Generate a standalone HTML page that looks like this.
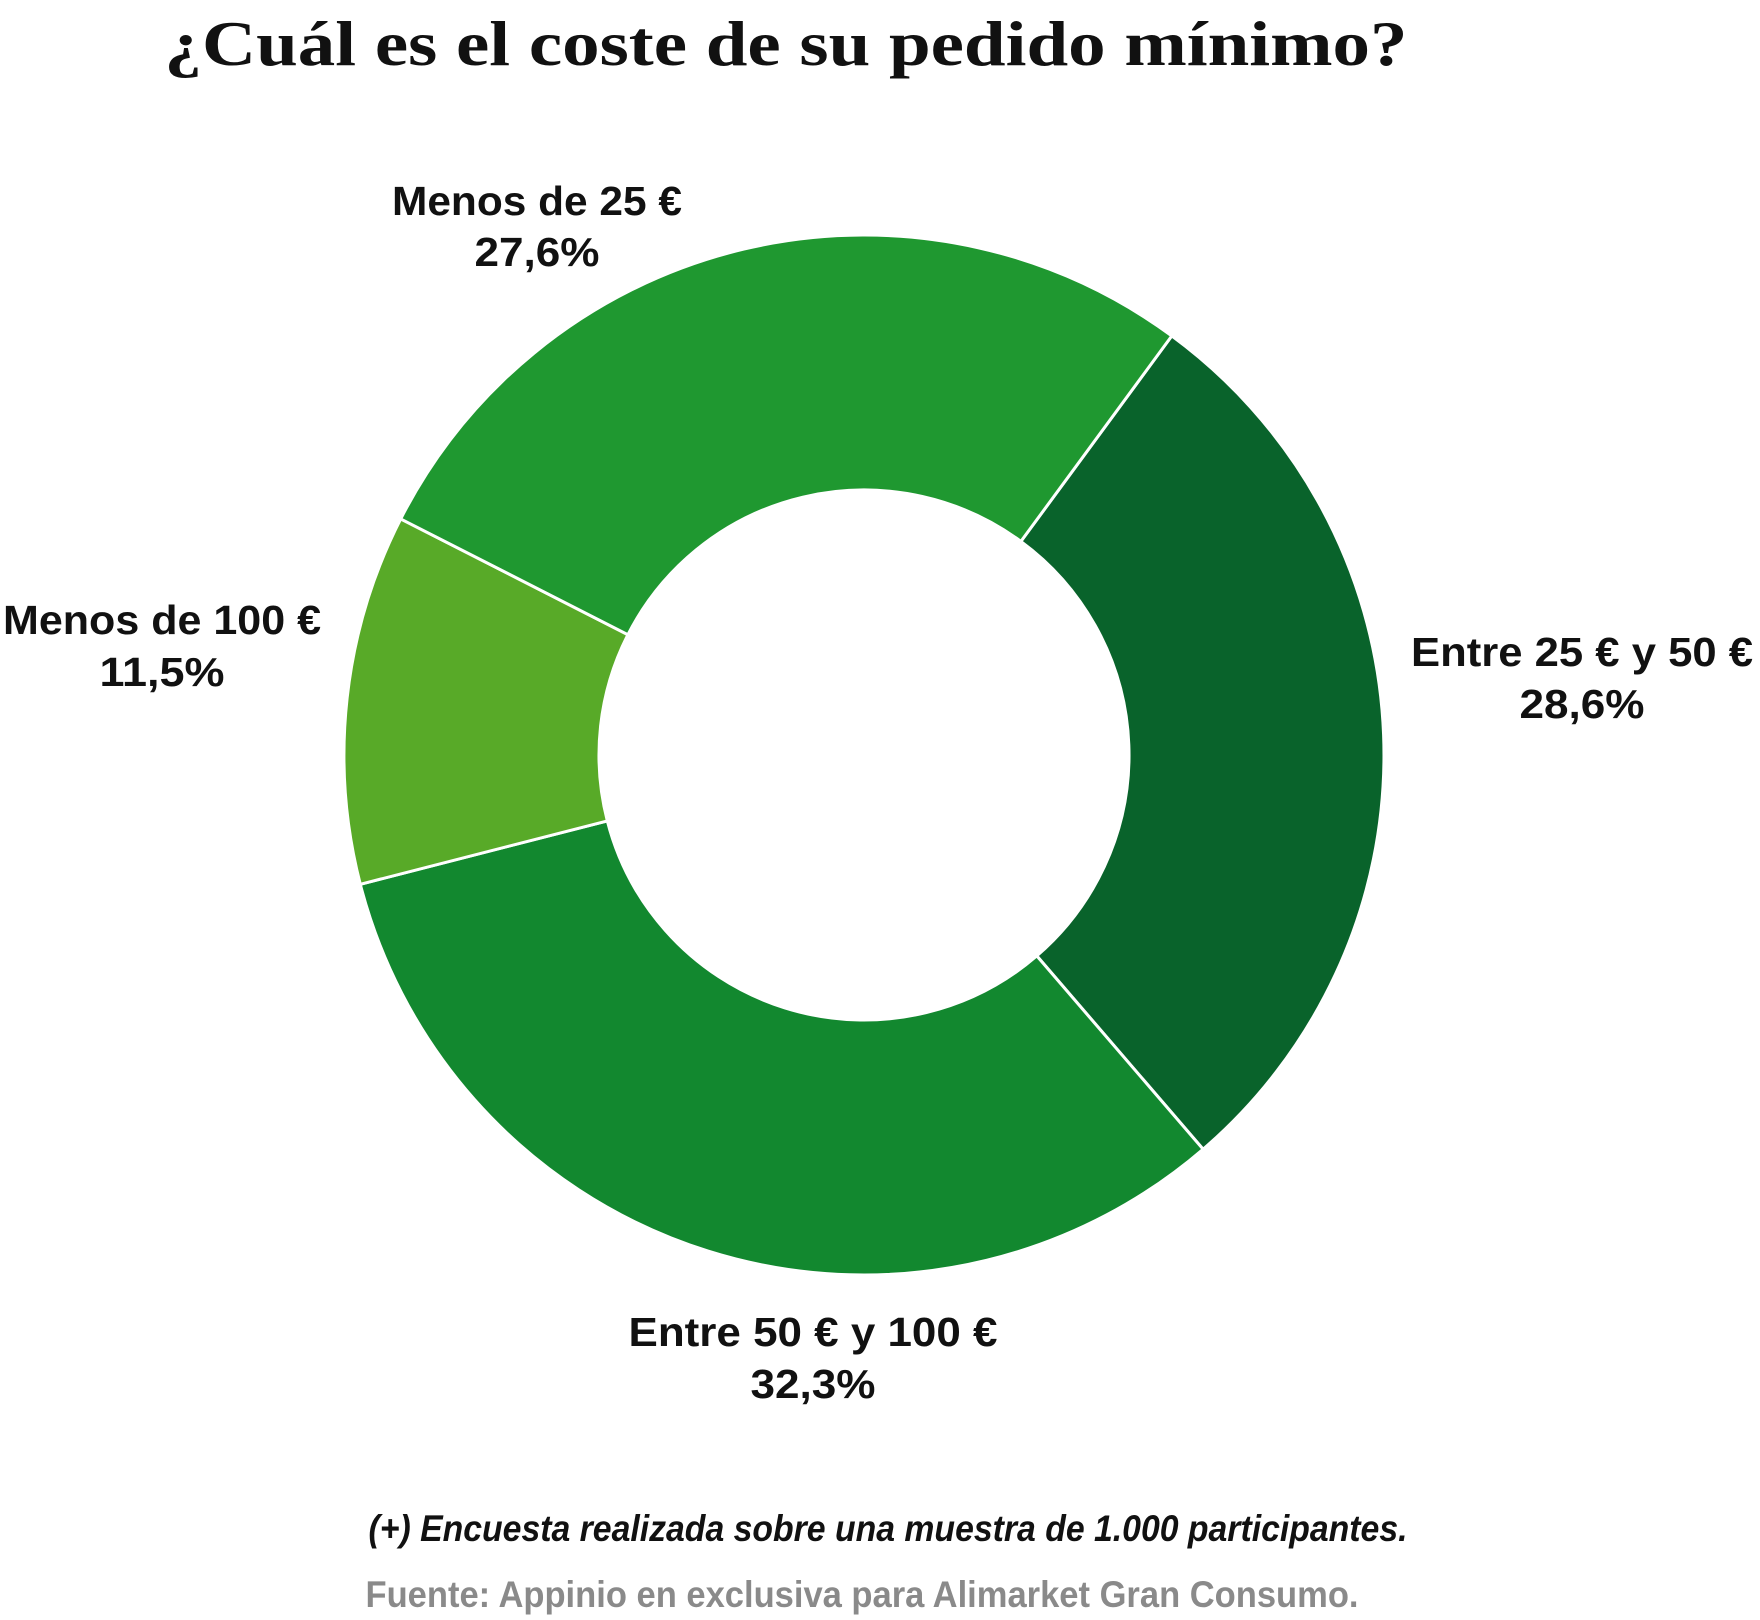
<!DOCTYPE html>
<html><head><meta charset="utf-8"><style>
html,body{margin:0;padding:0;background:#fff;}
svg{display:block;}
.l{font-family:"Liberation Sans",sans-serif;font-weight:bold;font-size:41px;fill:#111;}
</style></head><body>
<svg width="1760" height="1620" viewBox="0 0 1760 1620" xmlns="http://www.w3.org/2000/svg">
<text x="786" y="65" text-anchor="middle" font-family="Liberation Serif, serif" font-weight="bold" font-size="64" fill="#111" textLength="1243" lengthAdjust="spacingAndGlyphs">¿Cuál es el coste de su pedido mínimo?</text>
<g stroke="#fff" stroke-width="3" stroke-linejoin="round">
<path d="M1171.8,335.9 A520,520 0 0 1 1203.1,1149.2 L1036.8,955.9 A265,265 0 0 0 1020.9,541.4 Z" fill="#09632b"/>
<path d="M1203.1,1149.2 A520,520 0 0 1 360.3,884.3 L607.3,820.9 A265,265 0 0 0 1036.8,955.9 Z" fill="#12882f"/>
<path d="M360.3,884.3 A520,520 0 0 1 400.7,518.9 L627.9,634.7 A265,265 0 0 0 607.3,820.9 Z" fill="#58aa28"/>
<path d="M400.7,518.9 A520,520 0 0 1 1171.8,335.9 L1020.9,541.4 A265,265 0 0 0 627.9,634.7 Z" fill="#1f9830"/>
</g>
<text class="l" x="537" y="215" text-anchor="middle" textLength="290" lengthAdjust="spacingAndGlyphs">Menos de 25 €</text>
<text class="l" x="537" y="266" text-anchor="middle" textLength="125" lengthAdjust="spacingAndGlyphs">27,6%</text>
<text class="l" x="162" y="634" text-anchor="middle" textLength="318" lengthAdjust="spacingAndGlyphs">Menos de 100 €</text>
<text class="l" x="162" y="686" text-anchor="middle" textLength="125" lengthAdjust="spacingAndGlyphs">11,5%</text>
<text class="l" x="1582" y="666" text-anchor="middle" textLength="342" lengthAdjust="spacingAndGlyphs">Entre 25 € y 50 €</text>
<text class="l" x="1582" y="718" text-anchor="middle" textLength="125" lengthAdjust="spacingAndGlyphs">28,6%</text>
<text class="l" x="813" y="1346" text-anchor="middle" textLength="369" lengthAdjust="spacingAndGlyphs">Entre 50 € y 100 €</text>
<text class="l" x="813" y="1398" text-anchor="middle" textLength="125" lengthAdjust="spacingAndGlyphs">32,3%</text>
<text x="888" y="1541" text-anchor="middle" font-family="Liberation Sans, sans-serif" font-weight="bold" font-style="italic" font-size="37" fill="#111" textLength="1039" lengthAdjust="spacingAndGlyphs">(+) Encuesta realizada sobre una muestra de 1.000 participantes.</text>
<text x="862" y="1607" text-anchor="middle" font-family="Liberation Sans, sans-serif" font-weight="bold" font-size="37" fill="#8a8a8a" textLength="993" lengthAdjust="spacingAndGlyphs">Fuente: Appinio en exclusiva para Alimarket Gran Consumo.</text>
</svg>
</body></html>
